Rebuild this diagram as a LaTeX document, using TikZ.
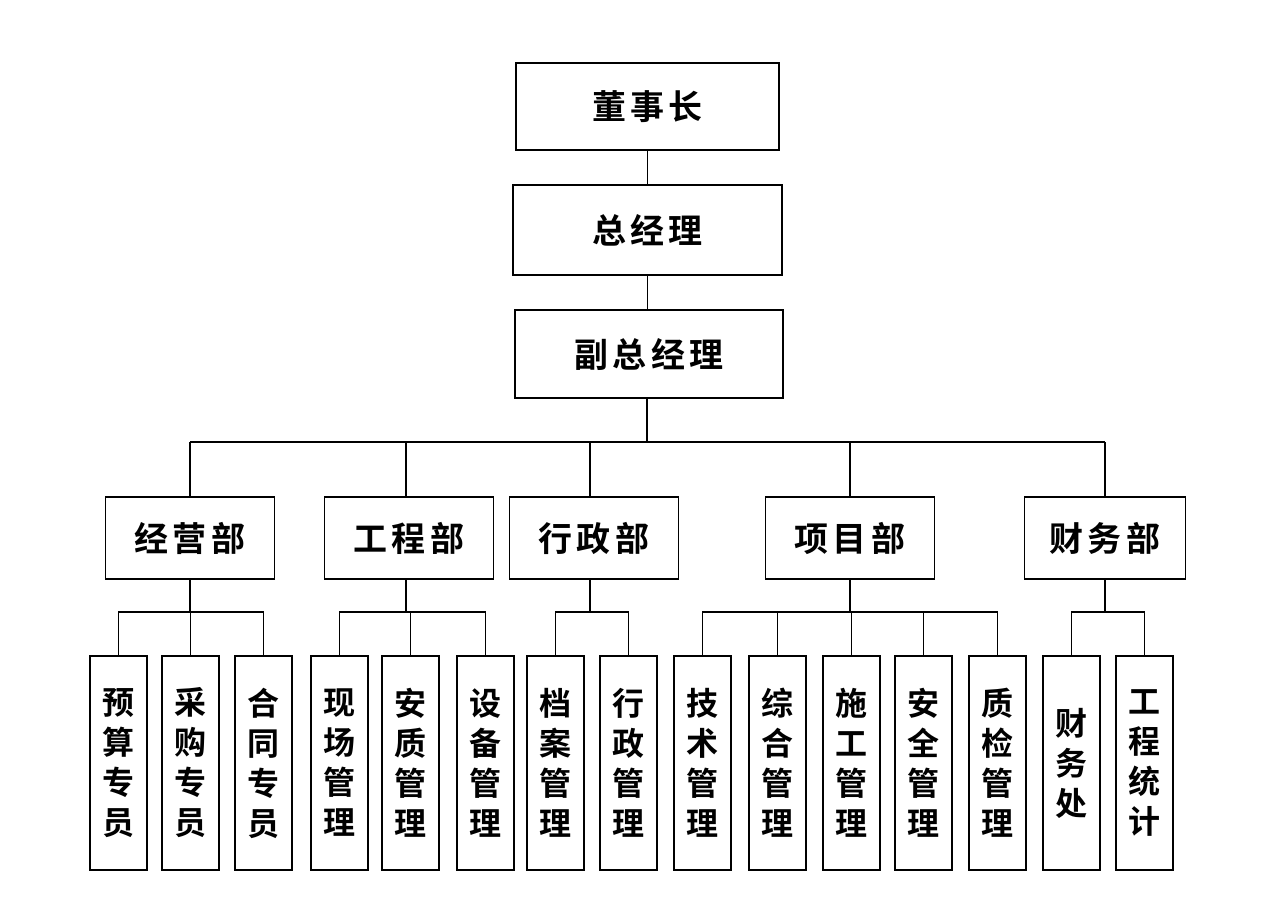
\documentclass[tikz,border=0pt]{standalone}
\usepackage{fontspec}
\newfontfamily\cjk{Noto Sans CJK SC Bold}[LetterSpace=12]
\begin{document}
\begin{tikzpicture}[x=1pt,y=-1pt,line width=1.3pt,
  box/.style={draw,inner sep=0pt,font=\cjk\fontsize{34}{40}\selectfont},
  leaf/.style={draw,inner sep=0pt,minimum width=57pt,minimum height=214pt,align=center,font=\cjk\fontsize{32}{40}\selectfont}]
\useasboundingbox[fill=white] (0,0) rectangle (1278,911);
\node[box,minimum width=263pt,minimum height=87pt] (a) at (647.5,106.5) {董事长};
\node[box,minimum width=269pt,minimum height=90pt] (b) at (647.5,230) {总经理};
\node[box,minimum width=268pt,minimum height=88pt] (c) at (649,354) {副总经理};
\coordinate (bus) at (647,442);
\draw (a.south) -- (a.south |- b.north);
\draw (a.south |- b.south) -- (a.south |- c.north);
\draw (bus |- c.south) -- (bus);
\foreach \n/\x/\w/\t in {d1/190/169/经营部, d2/409/169/工程部, d3/594/169/行政部, d4/850/169/项目部, d5/1105/161/财务部}{
  \node[box,minimum width=\w pt,minimum height=82pt] (\n) at (\x,538) {\t};
}
\draw (d1.north |- bus) -- (d5.north |- bus);
\foreach \n in {d1,d4,d5} \draw (\n.north |- bus) -- (\n.north);
\draw (406,442) -- (406,497);
\draw (590,442) -- (590,497);
\foreach \n/\x/\t in {l1/118.5/预\\算\\专\\员, l2/190.5/采\\购\\专\\员, l3/263.5/合\\同\\专\\员,
  l4/339.5/现\\场\\管\\理, l5/410.5/安\\质\\管\\理, l6/485.5/设\\备\\管\\理,
  l7/555.5/档\\案\\管\\理, l8/628.5/行\\政\\管\\理,
  l9/702.5/技\\术\\管\\理, l10/777.5/综\\合\\管\\理, l11/851.5/施\\工\\管\\理, l12/923.5/安\\全\\管\\理, l13/997.5/质\\检\\管\\理,
  l14/1071.5/财\\务\\处, l15/1144.5/工\\程\\统\\计}{
  \node[leaf] (\n) at (\x,763) {\t};
  \draw (\n.north) -- ++(0,-44);
}
\draw (118.5,612) -- (263.5,612); \draw (d1.south) -- (190,612);
\draw (339.5,612) -- (485.5,612); \draw (406,579) -- (406,612);
\draw (555.5,612) -- (628.5,612); \draw (590,579) -- (590,612);
\draw (702.5,612) -- (997.5,612); \draw (d4.south) -- (850,612);
\draw (1071.5,612) -- (1144.5,612); \draw (d5.south) -- (1105,612);
\end{tikzpicture}
\end{document}
